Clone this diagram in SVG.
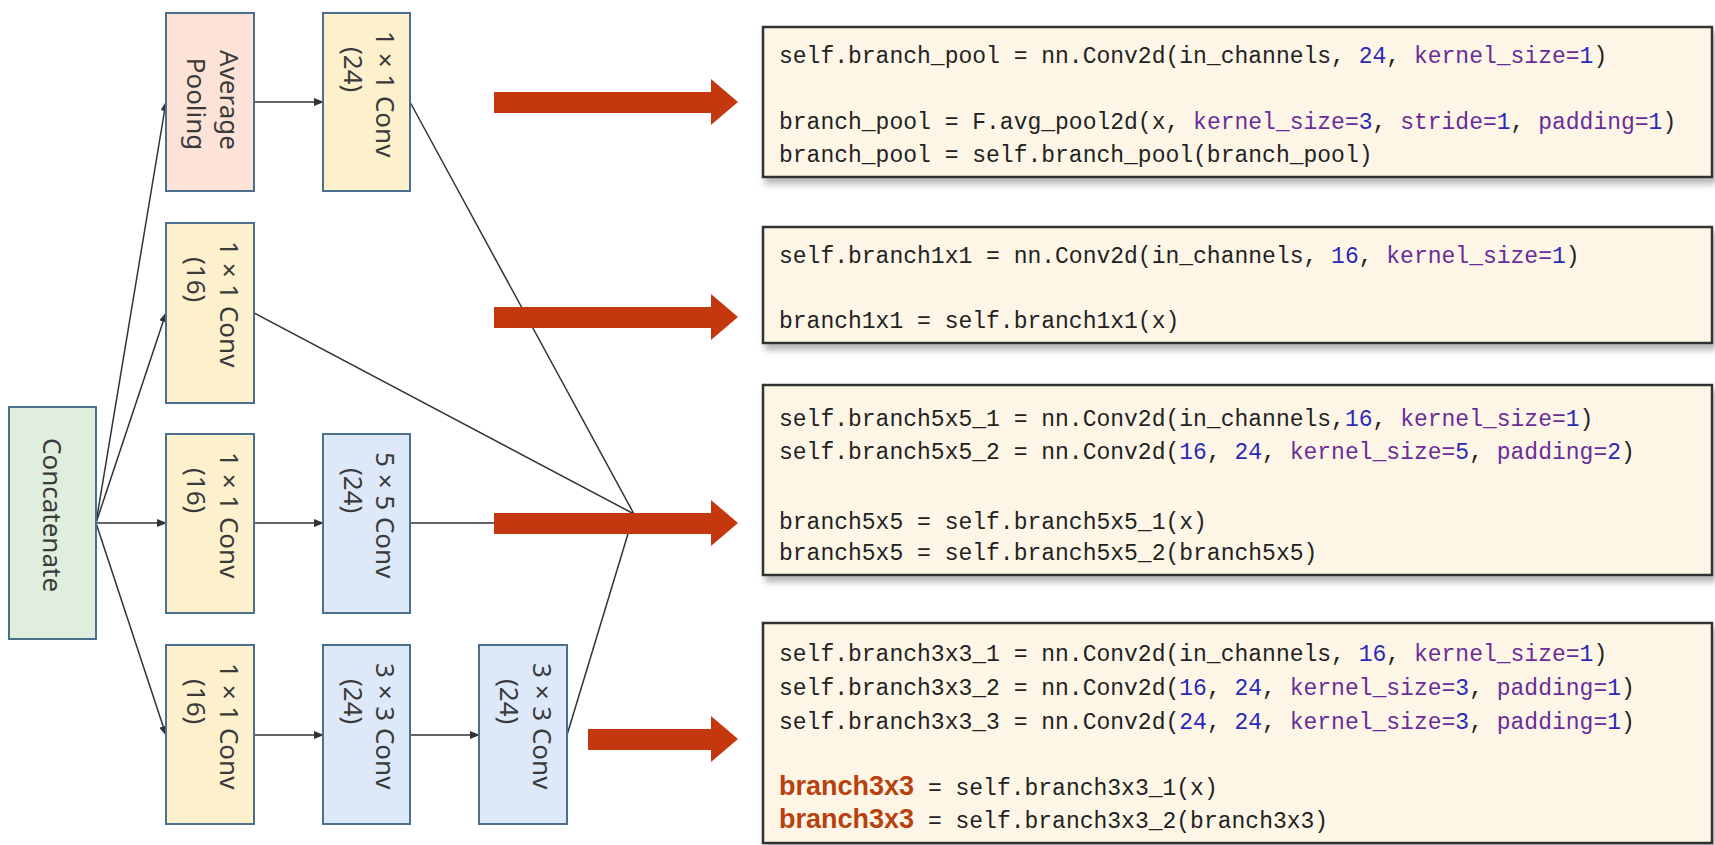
<svg xmlns="http://www.w3.org/2000/svg" width="1715" height="845" viewBox="0 0 1715 845">
<defs>
<marker id="ah" markerWidth="10" markerHeight="8" refX="9" refY="4" orient="auto" markerUnits="userSpaceOnUse"><path d="M0,0 L10,4 L0,8 Z" fill="#333"/></marker>
<filter id="sh" x="-5%" y="-5%" width="110%" height="120%"><feDropShadow dx="3" dy="6" stdDeviation="3" flood-color="#888" flood-opacity="0.6"/></filter>
</defs>
<style>
.n rect{stroke:#4b6f8f;stroke-width:2}
.y{fill:#fdf0cc}.b{fill:#dde9f8}.p{fill:#fde3d7}.g{fill:#e0eedd}
.n text{font-family:"Noto Sans","Open Sans",sans-serif;font-size:26px;fill:#3a3a3a}
.c{stroke:#333;stroke-width:1.5;fill:none}
.code rect{fill:#fdf6e6;stroke:#333;stroke-width:2.5}
.code text{font-family:"Liberation Mono",monospace;font-size:23px;fill:#222}
.nu{fill:#2a2ab8}.kw{fill:#6a2c98}
.bb{font-family:"Liberation Sans",sans-serif;font-weight:bold;font-size:27px;fill:#b8420f}
.ra{fill:#c3380f}
</style>
<rect width="1715" height="845" fill="#fff"/>
<g id="connectors">
<line class="c" x1="96" y1="523" x2="166" y2="102" marker-end="url(#ah)"/>
<line class="c" x1="96" y1="523" x2="166" y2="313" marker-end="url(#ah)"/>
<line class="c" x1="96" y1="523" x2="166" y2="523" marker-end="url(#ah)"/>
<line class="c" x1="96" y1="523" x2="166" y2="735" marker-end="url(#ah)"/>
<line class="c" x1="254" y1="102" x2="323" y2="102" marker-end="url(#ah)"/>
<line class="c" x1="254" y1="523" x2="323" y2="523" marker-end="url(#ah)"/>
<line class="c" x1="254" y1="735" x2="323" y2="735" marker-end="url(#ah)"/>
<line class="c" x1="410" y1="735" x2="479" y2="735" marker-end="url(#ah)"/>
<line class="c" x1="410" y1="102" x2="634" y2="514"/>
<line class="c" x1="254" y1="313" x2="634" y2="514"/>
<line class="c" x1="410" y1="523" x2="634" y2="523"/>
<line class="c" x1="567" y1="735" x2="634" y2="514"/>
</g>
<g id="concat" class="n"><rect class="g" x="9" y="407" width="87" height="232"/><text transform="translate(43,438) rotate(90)">Concatenate</text></g>
<g id="avgpool" class="n"><rect class="p" x="166" y="13" width="88" height="178"/><text transform="translate(220,100) rotate(90)" text-anchor="middle">Average</text><text transform="translate(187,104) rotate(90)" text-anchor="middle">Pooling</text></g>
<g id="conv1x1_24" class="n"><rect class="y" x="323" y="13" width="87" height="178"/><text transform="translate(376,31) rotate(90)">1 × 1 Conv</text><text transform="translate(344,47) rotate(90)">(24)</text></g>
<g id="conv1x1_a" class="n"><rect class="y" x="166" y="223" width="88" height="180"/><text transform="translate(220,241) rotate(90)">1 × 1 Conv</text><text transform="translate(187,257) rotate(90)">(16)</text></g>
<g id="conv1x1_b" class="n"><rect class="y" x="166" y="434" width="88" height="179"/><text transform="translate(220,452) rotate(90)">1 × 1 Conv</text><text transform="translate(187,468) rotate(90)">(16)</text></g>
<g id="conv5x5" class="n"><rect class="b" x="323" y="434" width="87" height="179"/><text transform="translate(376,452) rotate(90)">5 × 5 Conv</text><text transform="translate(344,468) rotate(90)">(24)</text></g>
<g id="conv1x1_c" class="n"><rect class="y" x="166" y="645" width="88" height="179"/><text transform="translate(220,663) rotate(90)">1 × 1 Conv</text><text transform="translate(187,679) rotate(90)">(16)</text></g>
<g id="conv3x3_a" class="n"><rect class="b" x="323" y="645" width="87" height="179"/><text transform="translate(376,663) rotate(90)">3 × 3 Conv</text><text transform="translate(344,679) rotate(90)">(24)</text></g>
<g id="conv3x3_b" class="n"><rect class="b" x="479" y="645" width="88" height="179"/><text transform="translate(533,663) rotate(90)">3 × 3 Conv</text><text transform="translate(500,679) rotate(90)">(24)</text></g>
<g id="arrows">
<path class="ra" d="M494,92 H711 V79 L738,102 L711,125 V113 H494 Z"/>
<path class="ra" d="M494,307 H711 V294 L738,317 L711,340 V328 H494 Z"/>
<path class="ra" d="M494,513 H711 V500 L738,523 L711,546 V534 H494 Z"/>
<path class="ra" d="M588,729 H711 V716 L738,739 L711,762 V750 H588 Z"/>
</g>
<g id="code1" class="code"><rect x="763" y="27" width="949" height="150" filter="url(#sh)"/>
<text x="779" y="63">self.branch_pool = nn.Conv2d(in_channels, <tspan class="nu">24</tspan>, <tspan class="kw">kernel_size=</tspan><tspan class="nu">1</tspan>)</text>
<text x="779" y="129">branch_pool = F.avg_pool2d(x, <tspan class="kw">kernel_size=</tspan><tspan class="nu">3</tspan>, <tspan class="kw">stride=</tspan><tspan class="nu">1</tspan>, <tspan class="kw">padding=</tspan><tspan class="nu">1</tspan>)</text>
<text x="779" y="162">branch_pool = self.branch_pool(branch_pool)</text></g>
<g id="code2" class="code"><rect x="763" y="227" width="949" height="116" filter="url(#sh)"/>
<text x="779" y="263">self.branch1x1 = nn.Conv2d(in_channels, <tspan class="nu">16</tspan>, <tspan class="kw">kernel_size=</tspan><tspan class="nu">1</tspan>)</text>
<text x="779" y="328">branch1x1 = self.branch1x1(x)</text></g>
<g id="code3" class="code"><rect x="763" y="385" width="949" height="190" filter="url(#sh)"/>
<text x="779" y="426">self.branch5x5_1 = nn.Conv2d(in_channels,<tspan class="nu">16</tspan>, <tspan class="kw">kernel_size=</tspan><tspan class="nu">1</tspan>)</text>
<text x="779" y="459">self.branch5x5_2 = nn.Conv2d(<tspan class="nu">16</tspan>, <tspan class="nu">24</tspan>, <tspan class="kw">kernel_size=</tspan><tspan class="nu">5</tspan>, <tspan class="kw">padding=</tspan><tspan class="nu">2</tspan>)</text>
<text x="779" y="529">branch5x5 = self.branch5x5_1(x)</text>
<text x="779" y="560">branch5x5 = self.branch5x5_2(branch5x5)</text></g>
<g id="code4" class="code"><rect x="763" y="623" width="949" height="220" filter="url(#sh)"/>
<text x="779" y="661">self.branch3x3_1 = nn.Conv2d(in_channels, <tspan class="nu">16</tspan>, <tspan class="kw">kernel_size=</tspan><tspan class="nu">1</tspan>)</text>
<text x="779" y="695">self.branch3x3_2 = nn.Conv2d(<tspan class="nu">16</tspan>, <tspan class="nu">24</tspan>, <tspan class="kw">kernel_size=</tspan><tspan class="nu">3</tspan>, <tspan class="kw">padding=</tspan><tspan class="nu">1</tspan>)</text>
<text x="779" y="729">self.branch3x3_3 = nn.Conv2d(<tspan class="nu">24</tspan>, <tspan class="nu">24</tspan>, <tspan class="kw">kernel_size=</tspan><tspan class="nu">3</tspan>, <tspan class="kw">padding=</tspan><tspan class="nu">1</tspan>)</text>
<text x="779" y="795"><tspan class="bb">branch3x3</tspan> = self.branch3x3_1(x)</text>
<text x="779" y="828"><tspan class="bb">branch3x3</tspan> = self.branch3x3_2(branch3x3)</text></g>
</svg>
